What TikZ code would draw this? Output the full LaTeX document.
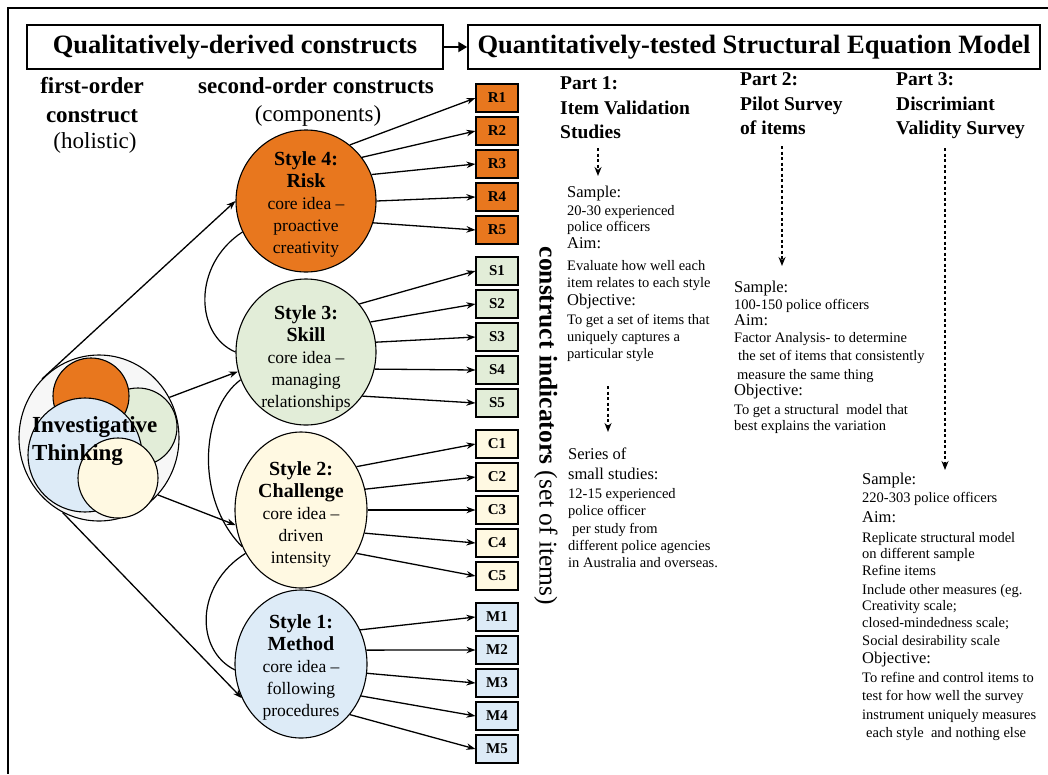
\documentclass[tikz,border=0pt]{standalone}
\usepackage{fontspec}
\setmainfont{Liberation Serif}
\usetikzlibrary{shapes.geometric,arrows.meta}
\definecolor{rorange}{RGB}{232,119,30}
\definecolor{sgreen}{RGB}{226,237,216}
\definecolor{cyellow}{RGB}{255,249,226}
\definecolor{mblue}{RGB}{221,235,247}
\definecolor{itgray}{RGB}{247,247,247}
\begin{document}
\begin{tikzpicture}[x=1pt,y=-1pt,
  titlebox/.style={draw,line width=1.5pt,minimum height=44pt,inner sep=0pt,font=\fontsize{26.5}{28}\selectfont\bfseries},
  head/.style={font=\fontsize{23}{26}\selectfont\bfseries,inner sep=0pt},
  headr/.style={font=\fontsize{23}{26}\selectfont,inner sep=0pt},
  ell/.style={draw,ellipse,line width=1.1pt,inner sep=0pt},
  etext/.style={align=center,inner sep=0pt,font=\fontsize{17.5}{22}\selectfont},
  ibox/.style={draw,line width=1.1pt,minimum width=42pt,minimum height=28pt,inner sep=0pt,font=\fontsize{15}{15}\selectfont\bfseries},
  arr/.style={line width=1.3pt,-{Stealth[length=9pt,width=6.5pt]}},
  corr/.style={line width=1.2pt},
  darr/.style={line width=1.6pt,dash pattern=on 3pt off 2.5pt,-{Stealth[length=9pt,width=7pt]}},
  phead/.style={anchor=mid west,inner sep=0pt,font=\fontsize{19.5}{19.5}\selectfont\bfseries},
  lab/.style={anchor=mid west,inner sep=0pt,font=\fontsize{16.5}{16.5}\selectfont},
  txt/.style={anchor=mid west,inner sep=0pt,font=\fontsize{14.5}{14.5}\selectfont},
  circ/.style={draw,circle,line width=1.1pt,inner sep=0pt}
]
\useasboundingbox (0,0) rectangle (1048,774);
% frame
\draw[line width=2.5pt] (1048,8) -- (8,8) -- (8,774);
% title boxes
\node[titlebox,minimum width=416pt] (t1) at (235,47) {Qualitatively-derived constructs};
\node[titlebox,minimum width=572pt] (t2) at (754,47) {Quantitatively-tested Structural Equation Model};
\draw[line width=2pt,-{Triangle[length=9pt,width=10pt]}] (t1.east) -- (t2.west);
% headings
\node[head] (h1) at (92,86) {first-order};
\node[head] (h2) at (92,116) {construct};
\node[headr] (h3) at (95,143) {(holistic)};
\node[head] (h4) at (316,86) {second-order constructs};
\node[headr] (h5) at (318,116) {(components)};
% investigative thinking composite
\node[draw,ellipse,line width=1.1pt,fill=itgray,minimum width=160pt,minimum height=166pt,inner sep=0pt] (itc) at (99,438) {};
\node[circ,fill=sgreen,minimum size=78pt] (itg) at (138,427) {};
\node[circ,fill=rorange,minimum size=76pt] (ito) at (91,396) {};
\node[circ,fill=mblue,minimum size=114pt] (itb) at (85,455) {};
\node[circ,fill=cyellow,minimum size=80pt] (ity) at (118,478) {};
\node[align=left,anchor=west,inner sep=0pt,font=\fontsize{23}{28}\selectfont\bfseries] (itt) at (32,441) {Investigative\\Thinking};
% style ellipses
\node[ell,fill=rorange,minimum width=140pt,minimum height=142pt] (S4) at (306,201) {};
\node[ell,fill=sgreen,minimum width=140pt,minimum height=146pt] (S3) at (306,352) {};
\node[ell,fill=cyellow,minimum width=132pt,minimum height=156pt] (S2) at (301,510) {};
\node[ell,fill=mblue,minimum width=132pt,minimum height=148pt] (S1) at (301,664) {};
\node[etext] (S4t) at (306,204) {{\fontsize{20}{22}\selectfont\bfseries Style 4:}\\{\fontsize{20}{22}\selectfont\bfseries Risk}\\core idea --\\proactive\\creativity};
\node[etext] (S3t) at (306,358) {{\fontsize{20}{22}\selectfont\bfseries Style 3:}\\{\fontsize{20}{22}\selectfont\bfseries Skill}\\core idea --\\managing\\relationships};
\node[etext] (S2t) at (301,514) {{\fontsize{20}{22}\selectfont\bfseries Style 2:}\\{\fontsize{20}{22}\selectfont\bfseries Challenge}\\core idea --\\driven\\intensity};
\node[etext] (S1t) at (301,667) {{\fontsize{20}{22}\selectfont\bfseries Style 1:}\\{\fontsize{20}{22}\selectfont\bfseries Method}\\core idea --\\following\\procedures};
% arrows from IT to styles
\draw[arr] (itc.134) -- (S4.180);
\draw[arr] (itc.30) -- (S3.196);
\draw[arr] (itc.-44) -- (S2.193);
\draw[arr] (itc.-116) -- (S1.210);
% correlations
\draw[corr] (S4.206) .. controls (192,265) and (195,335) .. (S3.180);
\draw[corr] (S3.203) .. controls (200,410) and (195,500) .. (S2.212);
\draw[corr] (S2.218) .. controls (195,585) and (195,650) .. (S1.185);
% indicator boxes
\foreach \n [count=\i from 0] in {1,...,5} {
  \node[ibox,fill=rorange] (R\n) at (497,98+33*\i) {R\n};
  \node[ibox,fill=sgreen] (Sb\n) at (497,271+33*\i) {S\n};
  \node[ibox,fill=cyellow] (C\n) at (497,444+33*\i) {C\n};
  \node[ibox,fill=mblue] (M\n) at (497,617+33*\i) {M\n};
}
\foreach \n/\a in {1/52,2/38,3/22,4/0,5/-18} \draw[arr] (S4.\a) -- (R\n.west);
\foreach \n/\a in {1/42,2/25,3/8,4/-14,5/-38} \draw[arr] (S3.\a) -- (Sb\n.west);
\foreach \n/\a in {1/38,2/18,3/0,4/-20,5/-38} \draw[arr] (S2.\a) -- (C\n.west);
\foreach \n/\a in {1/30,2/12,3/-8,4/-28,5/-46} \draw[arr] (S1.\a) -- (M\n.west);
% vertical label
\node[rotate=-90,inner sep=0pt,font=\fontsize{25.5}{25.5}\selectfont] (ci) at (546,426) {{\bfseries construct indicators} (set of items)};
% part headings
\foreach \yy/\tx [count=\i] in {87/Part 1:, 112/Item Validation, 136/Studies} \node[phead] (pa\i) at (560,\yy) {\tx};
\foreach \yy/\tx [count=\i] in {83/Part 2:, 108/Pilot Survey, 132/of items} \node[phead] (pb\i) at (740,\yy) {\tx};
\foreach \yy/\tx [count=\i] in {83/Part 3:, 108/Discrimiant, 132/Validity Survey} \node[phead] (pc\i) at (896,\yy) {\tx};
% dashed arrows
\coordinate (d1a) at (598,148); \coordinate (d1b) at (598,176);
\coordinate (d2a) at (608,386); \coordinate (d2b) at (608,432);
\coordinate (d3a) at (782,146); \coordinate (d3b) at (782,266);
\coordinate (d4a) at (945,148); \coordinate (d4b) at (945,470);
\draw[darr] (d1a) -- (d1b);
\draw[darr] (d2a) -- (d2b);
\draw[darr] (d3a) -- (d3b);
\draw[darr] (d4a) -- (d4b);
% part 1 texts
\foreach \yy/\st/\tx [count=\i] in {195/lab/Sample:, 213/txt/20-30 experienced, 229/txt/police officers, 246/lab/Aim:, 268/txt/Evaluate how well each, 285/txt/item relates to each style, 303/lab/Objective:, 322/txt/To get a set of items that, 339/txt/uniquely captures a, 356/txt/particular style}
  \node[\st] (qa\i) at (567,\yy) {\tx};
\foreach \yy/\st/\tx [count=\i] in {457/lab/Series of, 477/lab/small studies:, 496/txt/12-15 experienced, 513/txt/police officer, 531/txt/\hspace{4pt}per study from, 548/txt/different police agencies, 565/txt/in Australia and overseas.}
  \node[\st] (qb\i) at (568,\yy) {\tx};
% part 2 texts
\foreach \yy/\st/\tx [count=\i] in {290/lab/Sample:, 307/txt/100-150 police officers, 323/lab/Aim:, 340/txt/Factor Analysis- to determine, 358/txt/\hspace{4pt}the set of items that consistently, 377/txt/\hspace{3pt}measure the same thing, 393/lab/Objective:, 412/txt/To get a structural\ \ model that, 428/txt/best explains the variation}
  \node[\st] (qc\i) at (734,\yy) {\tx};
% part 3 texts
\foreach \yy/\st/\tx [count=\i] in {482/lab/Sample:, 500/txt/220-303 police officers, 520/lab/Aim:, 540/txt/Replicate structural model, 556/txt/on different sample, 573/txt/Refine items, 592/txt/Include other measures (eg., 608/txt/Creativity scale;, 625/txt/closed-mindedness scale;, 643/txt/Social desirability scale, 661/lab/Objective:, 680/txt/To refine and control items to, 698/txt/test for how well the survey, 717/txt/instrument uniquely measures, 735/txt/\hspace{4pt}each style\ \ and nothing else}
  \node[\st] (qd\i) at (862,\yy) {\tx};
\end{tikzpicture}
\end{document}
